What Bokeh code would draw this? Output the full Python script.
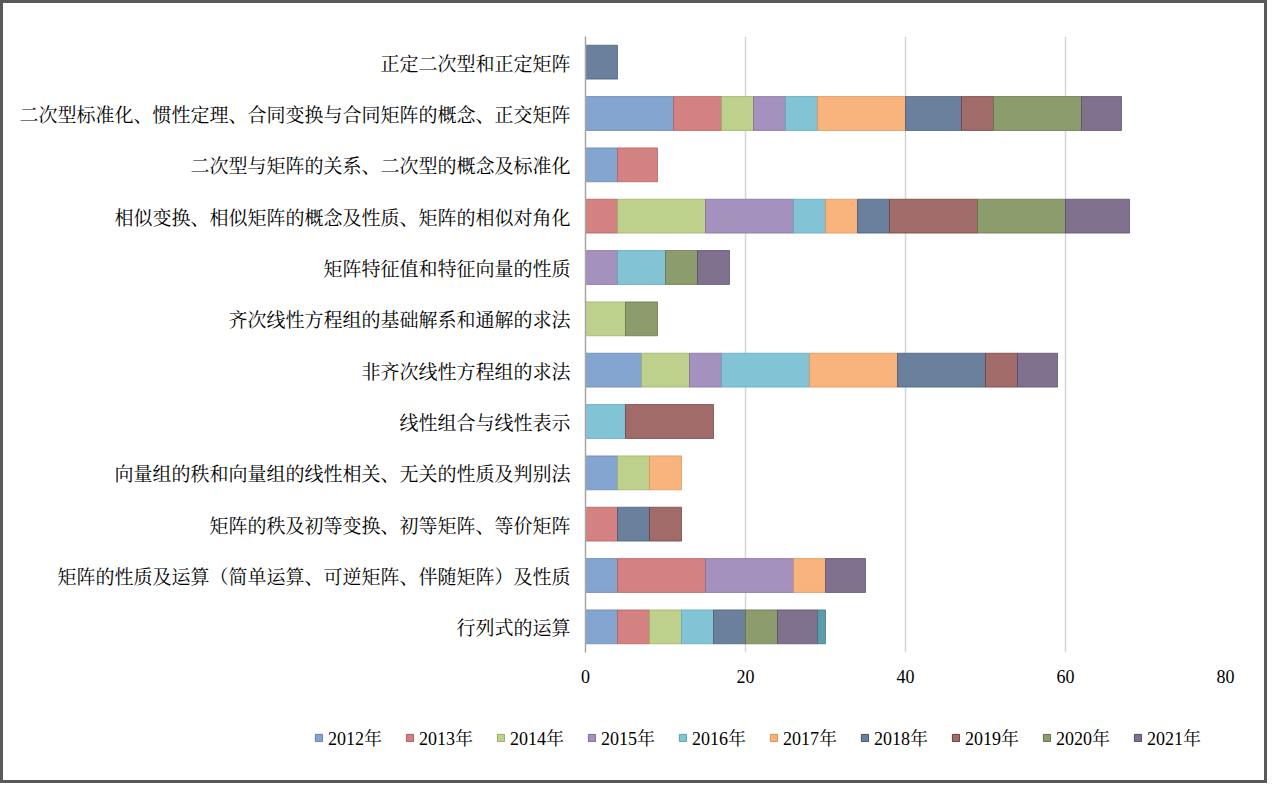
from bokeh.plotting import figure
from bokeh.layouts import column
from bokeh.models import ColumnDataSource, FactorRange, Range1d, Legend, LegendItem
from bokeh.embed import file_html
from bokeh.resources import INLINE

# categories, top to bottom as in the chart
categories = [
    "正定二次型和正定矩阵",
    "二次型标准化、惯性定理、合同变换与合同矩阵的概念、正交矩阵",
    "二次型与矩阵的关系、二次型的概念及标准化",
    "相似变换、相似矩阵的概念及性质、矩阵的相似对角化",
    "矩阵特征值和特征向量的性质",
    "齐次线性方程组的基础解系和通解的求法",
    "非齐次线性方程组的求法",
    "线性组合与线性表示",
    "向量组的秩和向量组的线性相关、无关的性质及判别法",
    "矩阵的秩及初等变换、初等矩阵、等价矩阵",
    "矩阵的性质及运算（简单运算、可逆矩阵、伴随矩阵）及性质",
    "行列式的运算",
]

years = ["2012年", "2013年", "2014年", "2015年", "2016年",
         "2017年", "2018年", "2019年", "2020年", "2021年"]

y2012 = [0, 11, 4, 0, 0, 0, 7, 0, 4, 0, 4, 4]
y2013 = [0, 6, 5, 4, 0, 0, 0, 0, 0, 4, 11, 4]
y2014 = [0, 4, 0, 11, 0, 5, 6, 0, 4, 0, 0, 4]
y2015 = [0, 4, 0, 11, 4, 0, 4, 0, 0, 0, 11, 0]
y2016 = [0, 4, 0, 4, 6, 0, 11, 5, 0, 0, 0, 4]
y2017 = [0, 11, 0, 4, 0, 0, 11, 0, 4, 0, 4, 0]
y2018 = [4, 7, 0, 4, 0, 0, 11, 0, 0, 4, 0, 4]
y2019 = [0, 4, 0, 11, 0, 0, 4, 11, 0, 4, 0, 0]
y2020 = [0, 11, 0, 11, 4, 4, 0, 0, 0, 0, 0, 4]
y2021 = [0, 5, 0, 8, 4, 0, 5, 0, 0, 0, 5, 5]
y_extra = [0, 0, 0, 0, 0, 0, 0, 0, 0, 0, 0, 1]   # unlabeled last segment

series = [y2012, y2013, y2014, y2015, y2016, y2017, y2018, y2019, y2020, y2021, y_extra]

fills = ["#84A5D0", "#D48181", "#BDD08C", "#A591BE", "#82C4D6", "#F9B47E",
         "#6B809D", "#A06B69", "#8C9C6C", "#80728F", "#5B9CAB"]
edges = ["#5F80AE", "#B05A5A", "#98AE62", "#7F6A9C", "#58A2B6", "#D98E52",
         "#3F5573", "#6E3A38", "#5F7140", "#54466A", "#33717F"]

CJK_SERIF = "'Noto Serif CJK SC', 'Noto Sans CJK SC'"

p = figure(width=1261, height=700,
           y_range=FactorRange(factors=list(reversed(categories))),
           x_range=Range1d(0, 80),
           output_backend="svg", toolbar_location=None,
           min_border_left=582, min_border_right=39,
           min_border_top=33, min_border_bottom=51)
p.frame_align = False
p.outline_line_color = None
p.background_fill_color = "white"
p.border_fill_color = "white"

cum = [0] * len(categories)
for vals, fc, ec in zip(series, fills, edges):
    cats, lefts, rights = [], [], []
    for i, v in enumerate(vals):
        if v > 0:
            cats.append(categories[i])
            lefts.append(cum[i])
            rights.append(cum[i] + v)
        cum[i] += v
    src = ColumnDataSource(dict(y=cats, left=lefts, right=rights))
    p.hbar(y="y", left="left", right="right", height=0.66, source=src,
           fill_color=fc, line_color=ec, line_width=1, line_alpha=0.7)

ticks = [0, 20, 40, 60, 80]
p.xaxis.ticker = ticks
p.xgrid.ticker = ticks
p.xgrid.grid_line_color = "#D6D6D6"
p.xgrid.grid_line_width = 1.5
p.ygrid.grid_line_color = None

p.xaxis.axis_line_color = None
p.xaxis.major_tick_line_color = None
p.xaxis.minor_tick_line_color = None
p.xaxis.major_label_standoff = 11
p.xaxis.major_label_text_font = "Liberation Serif"
p.xaxis.major_label_text_font_size = "18px"
p.xaxis.major_label_text_color = "black"

p.yaxis.axis_line_color = "#A6A6A6"
p.yaxis.axis_line_width = 1.5
p.yaxis.major_tick_line_color = None
p.yaxis.minor_tick_line_color = None
p.yaxis.major_label_standoff = 9
p.yaxis.major_label_text_font = CJK_SERIF
p.yaxis.major_label_text_font_size = "19px"
p.yaxis.major_label_text_color = "black"

# legend strip below the chart (proxy renderers sit outside its visible range)
lg = figure(width=1261, height=77, x_range=Range1d(0, 1), y_range=Range1d(0, 1),
            output_backend="svg", toolbar_location=None,
            min_border_left=0, min_border_right=0, min_border_top=0, min_border_bottom=0)
lg.frame_align = False
lg.axis.visible = False
lg.grid.visible = False
lg.outline_line_color = None
lg.border_fill_color = "white"
items = []
for yr, fc, ec in zip(years, fills, edges):
    r = lg.hbar(y=[5], left=[5], right=[6], height=0.5,
                fill_color=fc, line_color=ec, line_width=1)
    items.append(LegendItem(label=yr, renderers=[r]))
legend = Legend(
    items=items, orientation="horizontal", location=(311, 30),
    border_line_color=None, background_fill_alpha=0,
    padding=0, margin=0, spacing=23,
    glyph_width=9, glyph_height=9, label_standoff=5,
    label_text_font="'Liberation Serif', " + CJK_SERIF,
    label_text_font_size="18px", label_text_color="black",
)
lg.add_layout(legend, "center")

layout = column(p, lg, spacing=0)
layout.styles = {"border": "3px solid #595959", "background-color": "white"}

open("out.html", "w").write(file_html(layout, INLINE))
